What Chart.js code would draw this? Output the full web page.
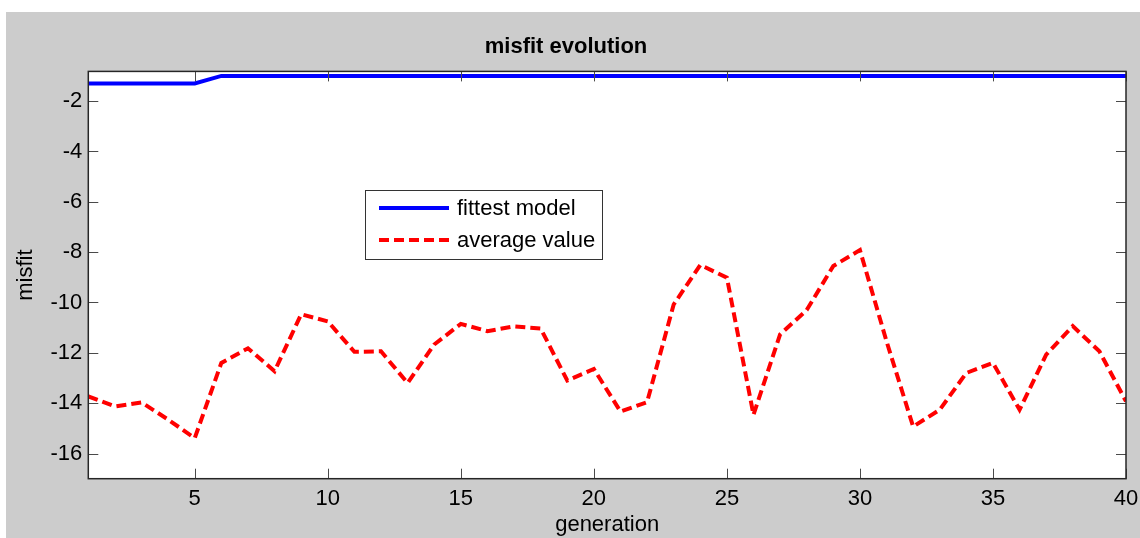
<!DOCTYPE html>
<html lang="en">
<head>
    <meta charset="UTF-8">
    <title>misfit evolution</title>
    <script src="https://cdn.jsdelivr.net/npm/chart.js@4.4.1/dist/chart.umd.min.js"></script>
    <style>
        body { margin: 0; background: #fff; }
        #wrap { position: absolute; left: 6px; top: 12px; width: 1134px; height: 526px; }
    </style>
</head>
<body>
    <div id="wrap"><canvas id="misfitChart" width="1134" height="526"></canvas></div>

    <script>
        // generations 1..40
        const generation = [1, 2, 3, 4, 5, 6, 7, 8, 9, 10,
            11, 12, 13, 14, 15, 16, 17, 18, 19, 20,
            21, 22, 23, 24, 25, 26, 27, 28, 29, 30,
            31, 32, 33, 34, 35, 36, 37, 38, 39, 40];

        const fittestModel = [-1.3, -1.3, -1.3, -1.3, -1.3, -1.0, -1.0, -1.0, -1.0, -1.0,
            -1.0, -1.0, -1.0, -1.0, -1.0, -1.0, -1.0, -1.0, -1.0, -1.0,
            -1.0, -1.0, -1.0, -1.0, -1.0, -1.0, -1.0, -1.0, -1.0, -1.0,
            -1.0, -1.0, -1.0, -1.0, -1.0, -1.0, -1.0, -1.0, -1.0, -1.0];

        const averageValue = [-13.73, -14.13, -13.97, -14.65, -15.39, -12.40, -11.82, -12.73, -10.47, -10.75,
            -11.96, -11.94, -13.20, -11.67, -10.85, -11.14, -10.95, -11.03, -13.10, -12.64,
            -14.33, -13.96, -10.08, -8.51, -9.01, -14.46, -11.27, -10.30, -8.55, -7.92,
            -11.54, -14.93, -14.26, -12.80, -12.40, -14.26, -12.07, -10.94, -11.94, -13.93];

        const xTicks = [5, 10, 15, 20, 25, 30, 35, 40];
        const yTicks = [-16, -14, -12, -10, -8, -6, -4, -2];

        const FONT = '"Liberation Sans", Arial, sans-serif';
        Chart.defaults.font.family = FONT;
        Chart.defaults.font.size = 22;
        Chart.defaults.color = '#000';

        // matlab style box: grey figure, white axes, inward ticks, legend inside
        const matlabBox = {
            id: 'matlabBox',
            beforeDraw(chart) {
                const { ctx, chartArea: a } = chart;
                ctx.save();
                ctx.fillStyle = '#cccccc';
                ctx.fillRect(0, 0, chart.width, chart.height);
                ctx.fillStyle = '#fff';
                ctx.fillRect(a.left, a.top, a.right - a.left, a.bottom - a.top);
                ctx.restore();
            },
            afterDraw(chart) {
                const { ctx, chartArea: a, scales } = chart;
                ctx.save();
                ctx.strokeStyle = '#4a4a4a';
                ctx.lineWidth = 1;
                const tl = 10;
                ctx.beginPath();
                xTicks.forEach(v => {
                    const px = Math.round(scales.x.getPixelForValue(v)) + 0.5;
                    ctx.moveTo(px, a.bottom); ctx.lineTo(px, a.bottom - tl);
                    ctx.moveTo(px, a.top); ctx.lineTo(px, a.top + tl);
                });
                yTicks.forEach(v => {
                    const py = Math.round(scales.y.getPixelForValue(v)) + 0.5;
                    ctx.moveTo(a.left, py); ctx.lineTo(a.left + tl, py);
                    ctx.moveTo(a.right, py); ctx.lineTo(a.right - tl, py);
                });
                ctx.stroke();
                ctx.strokeStyle = '#262626';
                ctx.lineWidth = 1.5;
                ctx.strokeRect(a.left, a.top, a.right - a.left, a.bottom - a.top);

                // legend
                const lx = 359, ly = 178, lw = 237, lh = 69;
                ctx.fillStyle = '#fff';
                ctx.fillRect(lx, ly, lw, lh);
                ctx.strokeStyle = '#333';
                ctx.lineWidth = 1;
                ctx.strokeRect(lx + 0.5, ly + 0.5, lw, lh);
                ctx.font = '22px ' + FONT;
                ctx.textBaseline = 'middle';
                ctx.fillStyle = '#000';
                chart.data.datasets.forEach((ds, i) => {
                    const y = ly + 18 + i * 32;
                    ctx.strokeStyle = ds.borderColor;
                    ctx.lineWidth = 4;
                    ctx.setLineDash(ds.borderDash || []);
                    ctx.beginPath();
                    ctx.moveTo(lx + 14, y); ctx.lineTo(lx + 84, y);
                    ctx.stroke();
                    ctx.setLineDash([]);
                    ctx.fillText(ds.label, lx + 92, y + 1);
                });
                ctx.restore();
            }
        };

        const ctx = document.getElementById('misfitChart').getContext('2d');

        new Chart(ctx, {
            type: 'line',
            data: {
                datasets: [{
                    label: 'fittest model',
                    data: generation.map((g, i) => ({ x: g, y: fittestModel[i] })),
                    borderColor: '#0000ff',
                    borderWidth: 4,
                    pointRadius: 0,
                    tension: 0
                }, {
                    label: 'average value',
                    data: generation.map((g, i) => ({ x: g, y: averageValue[i] })),
                    borderColor: '#ff0000',
                    borderWidth: 4,
                    borderDash: [10, 5],
                    pointRadius: 0,
                    tension: 0
                }]
            },
            options: {
                responsive: false,
                animation: false,
                layout: { padding: { left: 0, right: 14, top: 0, bottom: 0 } },
                plugins: {
                    legend: { display: false },
                    tooltip: { enabled: false },
                    title: {
                        display: true,
                        text: 'misfit evolution',
                        font: { size: 22, weight: 'bold' },
                        color: '#000',
                        padding: { top: 22, bottom: 11 }
                    }
                },
                scales: {
                    x: {
                        type: 'linear',
                        min: 1,
                        max: 40,
                        afterBuildTicks: s => { s.ticks = xTicks.map(v => ({ value: v })); },
                        afterFit: s => { s.height = 59.3; s.paddingLeft = 0; s.paddingRight = 0; },
                        grid: { display: false, tickLength: 0 },
                        border: { display: false },
                        ticks: { padding: 7, maxRotation: 0 },
                        title: { display: true, text: 'generation', padding: { top: 0, bottom: 0 } }
                    },
                    y: {
                        type: 'linear',
                        min: -17,
                        max: -0.82,
                        afterBuildTicks: s => { s.ticks = yTicks.map(v => ({ value: v })); },
                        afterFit: s => { s.width = 82.3; s.paddingTop = 0; s.paddingBottom = 0; },
                        grid: { display: false, tickLength: 0 },
                        border: { display: false },
                        ticks: { padding: 6 },
                        title: { display: true, text: 'misfit', padding: { top: 7, bottom: 0 } }
                    }
                }
            },
            plugins: [matlabBox]
        });
    </script>
</body>
</html>
